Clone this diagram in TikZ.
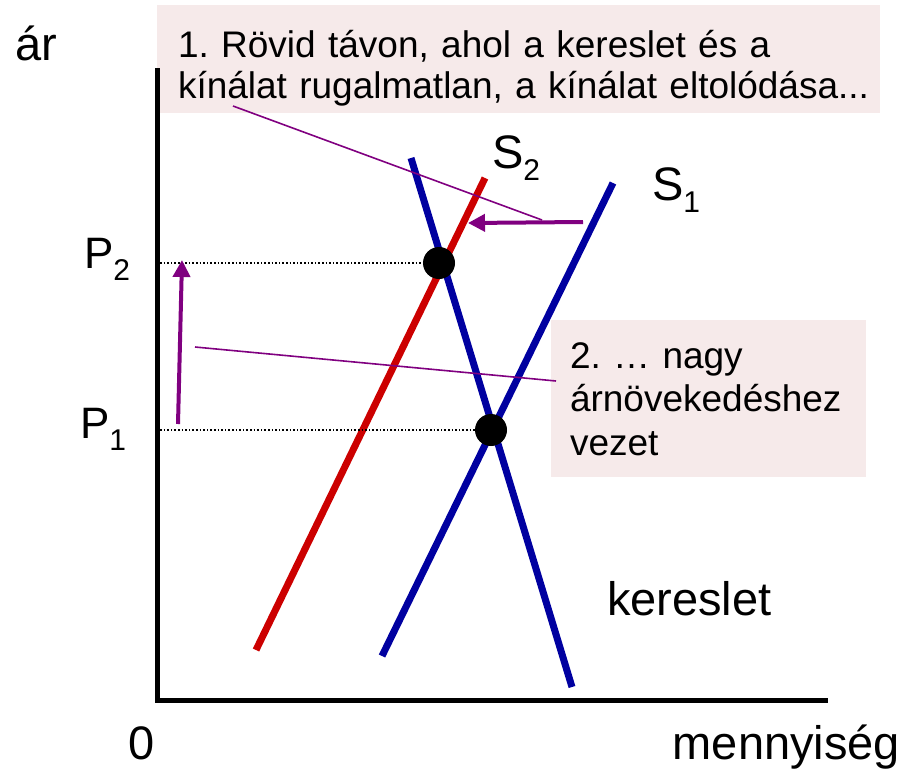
\documentclass[tikz,border=0pt]{standalone}
\usepackage{fontspec}
\setmainfont{Liberation Sans}
\usetikzlibrary{arrows.meta}
\frenchspacing

\definecolor{curveblue}{HTML}{0000A0}
\definecolor{curvered}{HTML}{CC0000}
\definecolor{notepurple}{HTML}{800080}
\definecolor{notepink}{HTML}{F6EAEA}

\newcommand{\lowidx}[1]{\raisebox{-12pt}{\fontsize{30}{30}\selectfont #1}}

\tikzset{
  axislabel/.style={font=\fontsize{47}{47}\selectfont},
  notebox/.style={fill=notepink, draw=none, anchor=north west},
  notetext/.style={font=\fontsize{37}{41}\selectfont, align=left, anchor=base west},
  curve/.style={line width=7pt},
  eqdot/.style={circle, fill=black, minimum size=32pt},
  guide/.style={dotted, line width=1.6pt},
  shiftarrow/.style={draw=notepurple, line width=4pt, -{Triangle[width=17pt,length=17pt]}},
  pointer/.style={draw=notepurple, line width=1.6pt}
}

\begin{document}
\begin{tikzpicture}[x=1pt, y=-1pt, every node/.style={inner sep=0pt, outer sep=0pt}]
    \useasboundingbox (0,0) rectangle (905,771);

    % note boxes
    \node[notebox, minimum width=723pt, minimum height=108pt] (note1) at (157,5) {};
    \node[notebox, minimum width=315pt, minimum height=157pt] (note2) at (551,320) {};
    \node[notetext, text width=710pt] (note1text) at (178,57)
        {1. Rövid távon, ahol a kereslet és a\\kínálat rugalmatlan, a kínálat eltolódása...};
    \node[notetext, text width=290pt, font=\fontsize{37}{43.5}\selectfont] (note2text) at (570,368)
        {2. … nagy\\árnövekedéshez\\vezet};

    % axes
    \coordinate (origin) at (157,700);
    \coordinate (ytop) at (157,68);
    \coordinate (xend) at (828,700);
    \draw[line width=5pt] (ytop) -- (origin) -- (xend);

    \node[axislabel, anchor=base west] (price) at (15,60) {ár};
    \node[axislabel, anchor=base west] (zero) at (128,759) {0};
    \node[axislabel, anchor=base east] (quantity) at (900,759) {mennyiség};

    % curves
    \coordinate (s1low) at (382,656);
    \coordinate (s1high) at (613,183);
    \coordinate (s2low) at (256,650);
    \coordinate (s2high) at (485,178);
    \coordinate (dhigh) at (411,158);
    \coordinate (dlow) at (572,687);
    \draw[curve, curvered] (s2low) -- (s2high);
    \draw[curve, curveblue] (s1low) -- (s1high);
    \draw[curve, curveblue] (dhigh) -- (dlow);

    \node[axislabel, anchor=base west] (s2label) at (492,168) {S\lowidx{2}};
    \node[axislabel, anchor=base west] (s1label) at (652,200) {S\lowidx{1}};
    \node[axislabel, anchor=base west] (demand) at (607,615) {kereslet};

    % equilibria and prices
    \coordinate (p2tick) at (160,263);
    \coordinate (p1tick) at (160,430);
    \node[eqdot] (eq2) at (439,263) {};
    \node[eqdot] (eq1) at (491,430) {};
    \draw[guide] (p2tick) -- (eq2);
    \draw[guide] (p1tick) -- (eq1);

    \node[axislabel, font=\fontsize{44}{44}\selectfont, anchor=base west] (p2label) at (84,268) {P\lowidx{2}};
    \node[axislabel, font=\fontsize{44}{44}\selectfont, anchor=base west] (p1label) at (80,438) {P\lowidx{1}};

    % shifts
    \coordinate (risefrom) at (178,424);
    \coordinate (riseto) at (182,260);
    \draw[shiftarrow] (risefrom) -- (riseto);
    \coordinate (shiftfrom) at (583,222);
    \coordinate (shiftto) at (468,223);
    \draw[shiftarrow] (shiftfrom) -- (shiftto);

    % pointers from the notes
    \coordinate (lead1) at (233,106);
    \coordinate (lead1end) at (542,220);
    \draw[pointer] (lead1) -- (lead1end);
    \coordinate (lead2) at (195,347);
    \coordinate (lead2end) at (556,381);
    \draw[pointer] (lead2) -- (lead2end);
\end{tikzpicture}
\end{document}
